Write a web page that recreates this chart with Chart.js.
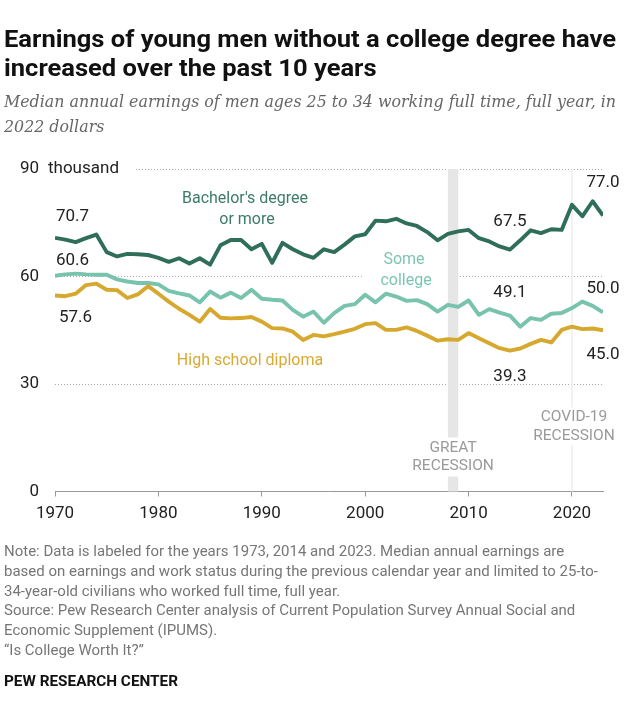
<!DOCTYPE html>
<html><head><meta charset="utf-8">
<script src="https://cdn.jsdelivr.net/npm/chart.js@4.4.1/dist/chart.umd.min.js"></script>
<style>
html,body{margin:0;padding:0;background:#fff;}
#wrap{position:relative;width:640px;height:719px;overflow:hidden;background:#fff;}
canvas{position:absolute;left:0;top:0;}
.t{position:absolute;left:4px;white-space:nowrap;transform-origin:0 0;display:inline-block;}
#title{top:25px;font-family:Roboto,sans-serif;font-weight:700;font-size:23px;line-height:29px;color:#111;}
#sub{top:90px;font-family:'DejaVu Serif',serif;font-style:italic;font-size:16.5px;line-height:24.5px;color:#666;}
#notes{top:542px;font-family:Roboto,sans-serif;font-size:14.5px;line-height:19.8px;color:#767676;}
#pew{top:673px;font-family:Roboto,sans-serif;font-weight:700;font-size:14.5px;line-height:18px;color:#111;}
</style></head>
<body><div id="wrap">
<canvas id="c" width="640" height="719"></canvas>
<div class="t" id="title" data-w="612">Earnings of young men without a college degree have<br>increased over the past 10 years</div>
<div class="t" id="sub" data-w="612">Median annual earnings of men ages 25 to 34 working full time, full year, in<br>2022 dollars</div>
<div class="t" id="notes" data-w="594">Note: Data is labeled for the years 1973, 2014 and 2023. Median annual earnings are<br>based on earnings and work status during the previous calendar year and limited to 25-to-<br>34-year-old civilians who worked full time, full year.<br>Source: Pew Research Center analysis of Current Population Survey Annual Social and<br>Economic Supplement (IPUMS).<br>“Is College Worth It?”</div>
<div class="t" id="pew" data-w="174">PEW RESEARCH CENTER</div>
</div>
<script>
const years = [1970,1971,1972,1973,1974,1975,1976,1977,1978,1979,
1980,1981,1982,1983,1984,1985,1986,1987,1988,1989,
1990,1991,1992,1993,1994,1995,1996,1997,1998,1999,
2000,2001,2002,2003,2004,2005,2006,2007,2008,2009,
2010,2011,2012,2013,2014,2015,2016,2017,2018,2019,
2020,2021,2022,2023];

const bachelors = [70.8,70.3,69.6,70.7,71.7,66.8,65.6,66.3,66.2,66.0,
65.2,64.1,65.1,63.6,65.1,63.3,68.7,70.2,70.2,67.6,
69.1,63.8,69.4,67.6,66.2,65.2,67.6,66.8,68.9,71.2,
71.8,75.6,75.4,76.1,74.8,74.1,72.4,70.1,71.9,72.6,
73.0,70.7,69.8,68.4,67.5,70.1,72.9,72.1,73.2,73.0,
80.0,76.8,81.0,77.0];

const someCollege = [60.2,60.6,60.8,60.6,60.5,60.5,59.2,58.6,58.2,58.2,
57.8,56.0,55.3,54.7,52.8,55.8,54.1,55.5,54.0,56.3,
53.8,53.5,53.3,50.7,48.8,50.2,47.1,49.8,51.8,52.3,
54.9,52.8,55.2,54.4,53.2,53.4,52.3,50.2,52.1,51.5,
53.3,49.3,50.9,49.9,49.1,46.0,48.4,47.9,49.6,49.8,
51.2,53.0,51.8,50.0];

const highSchool = [54.7,54.5,55.2,57.6,58.0,56.3,56.2,54.0,55.0,57.3,
55.2,53.0,51.0,49.3,47.4,50.9,48.5,48.3,48.4,48.7,
47.4,45.6,45.5,44.6,42.3,43.7,43.3,43.9,44.6,45.4,
46.7,47.0,45.1,45.1,45.8,44.8,43.5,42.1,42.5,42.3,
44.2,42.8,41.4,40.0,39.3,39.9,41.2,42.3,41.6,45.1,
46.0,45.3,45.5,45.0];

const yTicks = [0,30,60,90];
const xTicks = [1970,1980,1990,2000,2010,2020];
const labeledYears = [1973,2014,2023];
const recession = [2008,2009];
const covidYear = 2020;

const C_BA='#2f6e59', C_SC='#78c3ad', C_HS='#d6a82e';
const FONT='Roboto, sans-serif';

function pts(arr){ return years.map((yr,i)=>({x:yr,y:arr[i]})); }
function val(arr,yr){ return arr[years.indexOf(yr)]; }

const annot = {
  id:'annot',
  beforeDatasetsDraw(chart){
    const {ctx, chartArea:a, scales:{x,y}} = chart;
    ctx.save();
    const b0=x.getPixelForValue(recession[0]), b1=x.getPixelForValue(recession[1]);
    ctx.fillStyle='#e6e6e6';
    ctx.fillRect(b0, a.top, b1-b0, a.bottom-a.top);
    const cx=x.getPixelForValue(covidYear);
    ctx.strokeStyle='#ededed'; ctx.lineWidth=1.5;
    ctx.beginPath(); ctx.moveTo(cx,a.top); ctx.lineTo(cx,a.bottom); ctx.stroke();
    ctx.fillStyle='#fff';
    ctx.fillRect(b0-2, a.bottom-54, b1-b0+4, 39);
    ctx.fillRect(cx-3, a.bottom-84, 6, 38);
    const y90=y.getPixelForValue(90), y60=y.getPixelForValue(60);
    ctx.fillRect(a.left, y90-3, 80, 6);
    ctx.fillRect(363, y60-4, 84, 8);
    ctx.textAlign='center'; ctx.textBaseline='middle';
    ctx.font='15.5px '+FONT; ctx.fillStyle='#9a9a9a';
    const gc=(b0+b1)/2;
    ctx.fillText('GREAT', gc, a.bottom-43.5);
    ctx.fillText('RECESSION', gc, a.bottom-25);
    ctx.fillText('COVID-19', cx+2, a.bottom-74);
    ctx.fillText('RECESSION', cx+2, a.bottom-55.5);
    ctx.textAlign='left'; ctx.font='17px '+FONT; ctx.fillStyle='#222';
    ctx.fillText('thousand', 48, y90);
    ctx.textAlign='center'; ctx.font='16px '+FONT;
    ctx.fillStyle='#3b7c68';
    ctx.fillText("Bachelor's degree", 245, 199);
    ctx.fillText('or more', 247, 220);
    ctx.fillStyle='#7cc6b1';
    ctx.fillText('Some', 404, 260);
    ctx.fillText('college', 406, 281);
    ctx.fillStyle='#d9aa33';
    ctx.fillText('High school diploma', 250, 361);
    ctx.restore();
  },
  afterDatasetsDraw(chart){
    const {ctx, chartArea:a, scales:{x,y}} = chart;
    ctx.save();
    ctx.font='17px '+FONT; ctx.fillStyle='#222'; ctx.textBaseline='middle';
    const y1=labeledYears[0];
    ctx.textAlign='left';
    ctx.fillText(val(bachelors,y1).toFixed(1), a.left+1, y.getPixelForValue(val(bachelors,y1))-21.5);
    ctx.fillText(val(someCollege,y1).toFixed(1), a.left+1, y.getPixelForValue(val(someCollege,y1))-13.5);
    ctx.fillText(val(highSchool,y1).toFixed(1), a.left+4, y.getPixelForValue(val(highSchool,y1))+33);
    ctx.textAlign='center';
    for (const yr of [labeledYears[1], labeledYears[2]]){
      const px=x.getPixelForValue(yr);
      const up = yr===2023 ? 32.5 : 28;
      ctx.fillText(val(bachelors,yr).toFixed(1), px, y.getPixelForValue(val(bachelors,yr))-up);
      ctx.fillText(val(someCollege,yr).toFixed(1), px, y.getPixelForValue(val(someCollege,yr))-(yr===2023?24:23));
      ctx.fillText(val(highSchool,yr).toFixed(1), px, y.getPixelForValue(val(highSchool,yr))+(yr===2023?24.5:26));
    }
    ctx.restore();
  }
};

new Chart(document.getElementById('c'), {
  type:'line',
  data:{datasets:[
    {label:'High school diploma', data:pts(highSchool), borderColor:C_HS, order:0},
    {label:'Some college', data:pts(someCollege), borderColor:C_SC, order:1},
    {label:"Bachelor's degree or more", data:pts(bachelors), borderColor:C_BA, order:2}
  ]},
  options:{
    responsive:false, animation:false, devicePixelRatio:1,
    layout:{padding:{top:169,right:37,bottom:197.5,left:0}},
    plugins:{legend:{display:false}, tooltip:{enabled:false}},
    elements:{point:{radius:0}, line:{borderWidth:3.9, tension:0, borderJoinStyle:'round', fill:false}},
    scales:{
      x:{type:'linear', min:years[0], max:years[years.length-1],
        afterBuildTicks(s){ s.ticks = xTicks.map(v=>({value:v})); },
        ticks:{callback:v=>String(v), font:{family:FONT,size:17}, color:'#222', padding:7, maxRotation:0, autoSkip:false},
        grid:{drawOnChartArea:false, drawTicks:true, tickLength:5, color:'#999'},
        border:{display:true, color:'#999', width:1},
        afterFit(s){ s.height=30; }
      },
      y:{min:0, max:90,
        afterBuildTicks(s){ s.ticks = yTicks.map(v=>({value:v})); },
        ticks:{callback:v=>String(v), font:{family:FONT,size:17}, color:'#222', padding:16},
        grid:{drawTicks:false, lineWidth:1, color:c=> (c.tick && c.tick.value===0) ? 'rgba(0,0,0,0)' : '#a8a8a8'},
        border:{display:false, dash:[1,2]},
        afterFit(s){ s.width=55; }
      }
    }
  },
  plugins:[annot]
});

function fit(){
  document.querySelectorAll('.t').forEach(el=>{
    const w=el.getBoundingClientRect().width;
    const tw=parseFloat(el.dataset.w);
    if(w>0) el.style.transform='scaleX('+(tw/w)+')';
  });
}
fit();
</script>
</body></html>
